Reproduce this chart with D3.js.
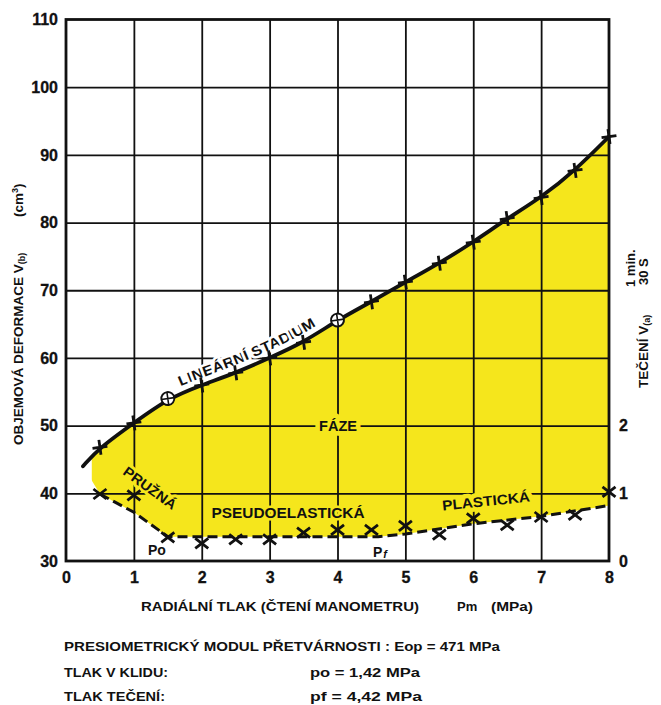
<!DOCTYPE html>
<html>
<head>
<meta charset="utf-8">
<script src="https://cdn.jsdelivr.net/npm/d3@7"></script>
<style>
  body { margin: 0; background: #fff; }
  svg { display: block; font-family: "Liberation Sans", Arial, sans-serif; font-weight: bold; }
</style>
</head>
<body>
<svg id="chart" width="661" height="705"></svg>
<script>
// radialni tlak Pm (MPa) - zatezovaci stupne
var pressure = [0.5, 1, 1.5, 2, 2.5, 3, 3.5, 4, 4.5, 5, 5.5, 6, 6.5, 7, 7.5, 8];
// objemova deformace V(b) (cm3)
var volume = [46.8, 50.4, 54.0, 56.0, 57.8, 60.0, 62.3, 65.6, 68.3, 71.2, 74.0, 77.1, 80.6, 83.7, 87.7, 92.7];
// teceni V(a) 30 s - 1 min (prava osa)
var creep = [0.99, 0.97, 0.35, 0.26, 0.32, 0.32, 0.42, 0.46, 0.46, 0.52, 0.39, 0.63, 0.53, 0.65, 0.68, 1.02];
// body oznacene krouzkem
var circled = [1.5, 4];
// zacatek vyrovnane krivky V(b)
var curveStart = [0.25, 44];
// vyrovnana carkovana krivka teceni
var creepFitP = [0.5, 1, 1.5, 4.6, 5, 6, 7, 8];
var creepFitV = [0.99, 0.72, 0.36, 0.36, 0.40, 0.55, 0.66, 0.82];
var fillFrom = 0.38;

var xTicks = [0, 1, 2, 3, 4, 5, 6, 7, 8];
var yTicks = [30, 40, 50, 60, 70, 80, 90, 100, 110];
var rTicks = [0, 1, 2];

var yellow = "#f5e61c";
var ink = "#111";

var svg = d3.select("#chart");
var x = d3.scaleLinear().domain([0, 8]).range([66, 609]);
var y = d3.scaleLinear().domain([30, 110]).range([561, 19.5]);
var yR = d3.scaleLinear().domain([0, 8]).range([561, 19.5]);
var plotH = y(30) - y(110);
var plotW = x(8) - x(0);

var upperPts = [curveStart].concat(pressure.map(function (p, i) { return [p, volume[i]]; }));
var lowerPts = creepFitP.map(function (p, i) { return [p, creepFitV[i]]; });

var upperLine = d3.line()
  .x(function (d) { return x(d[0]); })
  .y(function (d) { return y(d[1]); })
  .curve(d3.curveBasis);
var lowerLine = d3.line()
  .x(function (d) { return x(d[0]); })
  .y(function (d) { return yR(d[1]); });

// zluta oblast mezi krivkami
svg.append("clipPath").attr("id", "fillClip")
  .append("rect")
  .attr("x", x(fillFrom)).attr("y", y(110))
  .attr("width", x(8) - x(fillFrom)).attr("height", plotH);

svg.append("path")
  .attr("d", upperLine(upperPts) + lowerLine(lowerPts.slice().reverse()).replace("M", "L") + "Z")
  .attr("fill", yellow)
  .attr("clip-path", "url(#fillClip)");

// mrizka
var gx = svg.append("g")
  .attr("transform", "translate(0," + y(30) + ")")
  .call(d3.axisBottom(x).tickValues(xTicks.slice(1, -1)).tickSize(-plotH).tickFormat(""));
var gy = svg.append("g")
  .attr("transform", "translate(" + x(0) + ",0)")
  .call(d3.axisLeft(y).tickValues(yTicks.slice(1, -1)).tickSize(-plotW).tickFormat(""));
[gx, gy].forEach(function (g) {
  g.select(".domain").remove();
  g.selectAll("line").attr("stroke", ink).attr("stroke-width", 1.8);
});

// popisky os
var axL = svg.append("g").attr("transform", "translate(" + x(0) + ",0)")
  .call(d3.axisLeft(y).tickValues(yTicks).tickSize(0).tickPadding(8));
var axB = svg.append("g").attr("transform", "translate(0," + y(30) + ")")
  .call(d3.axisBottom(x).tickValues(xTicks).tickSize(0).tickPadding(11).tickFormat(d3.format("d")));
var axR = svg.append("g").attr("transform", "translate(" + x(8) + ",0)")
  .call(d3.axisRight(yR).tickValues(rTicks).tickSize(0).tickPadding(10).tickFormat(d3.format("d")));
[axL, axB, axR].forEach(function (g) {
  g.select(".domain").remove();
  g.selectAll("text").attr("font-size", 16).attr("font-family", "Liberation Sans, Arial, sans-serif")
    .attr("font-weight", "bold").attr("fill", ink)
    .attr("stroke", ink).attr("stroke-width", 0.3);
});

function halo(sel, color, w) {
  return sel.attr("stroke", color).attr("stroke-width", w || 6)
    .attr("stroke-linejoin", "round").attr("paint-order", "stroke");
}

// krivka V(b)
var vbPath = svg.append("path")
  .attr("id", "vbCurve")
  .attr("d", upperLine(upperPts))
  .attr("fill", "none").attr("stroke", "none");

// nalezeni mista pro popisek na krivce
var node = vbPath.node();
var total = node.getTotalLength();
var startLen = 0;
for (var L = 0; L < total; L += 1) {
  if (node.getPointAtLength(L).x >= x(1.72)) { startLen = L; break; }
}

var lin = svg.append("text").attr("font-size", 14).attr("dy", -7).attr("fill", ink);
halo(lin, "#fff", 5);
lin.append("textPath")
  .attr("href", "#vbCurve")
  .attr("startOffset", startLen)
  .attr("textLength", 150)
  .attr("lengthAdjust", "spacingAndGlyphs")
  .text("LINEÁRNÍ STADIUM");

halo(svg.append("text")
  .attr("x", 338).attr("y", y(50)).attr("dy", "0.36em")
  .attr("text-anchor", "middle").attr("font-size", 14).attr("fill", ink)
  .attr("textLength", 38).attr("lengthAdjust", "spacingAndGlyphs")
  .text("FÁZE"), yellow, 9);

halo(svg.append("text")
  .attr("transform", "translate(150,488) rotate(36)")
  .attr("dy", "0.36em").attr("text-anchor", "middle").attr("font-size", 14).attr("fill", ink)
  .attr("textLength", 62).attr("lengthAdjust", "spacingAndGlyphs")
  .text("PRUŽNÁ"), yellow, 6);

halo(svg.append("text")
  .attr("x", 288).attr("y", 513).attr("dy", "0.36em")
  .attr("text-anchor", "middle").attr("font-size", 14).attr("fill", ink)
  .attr("textLength", 153).attr("lengthAdjust", "spacingAndGlyphs")
  .text("PSEUDOELASTICKÁ"), yellow, 5);

halo(svg.append("text")
  .attr("transform", "translate(486,501) rotate(-6)")
  .attr("dy", "0.36em").attr("text-anchor", "middle").attr("font-size", 14).attr("fill", ink)
  .attr("textLength", 88).attr("lengthAdjust", "spacingAndGlyphs")
  .text("PLASTICKÁ"), yellow, 9);

svg.append("text")
  .attr("x", 148).attr("y", 555).attr("font-size", 14).attr("fill", ink)
  .text("Po");
var pf = svg.append("text")
  .attr("x", 373).attr("y", 557).attr("font-size", 14).attr("fill", ink);
pf.append("tspan").text("P");
pf.append("tspan").attr("font-size", 11).attr("font-style", "italic").attr("dx", 1).attr("dy", 1).text("f");

// vykreslene krivky
svg.append("path")
  .attr("d", upperLine(upperPts))
  .attr("fill", "none").attr("stroke", ink).attr("stroke-width", 3.8)
  .attr("stroke-linecap", "round");

svg.append("path")
  .attr("d", lowerLine(lowerPts))
  .attr("fill", "none").attr("stroke", ink).attr("stroke-width", 3)
  .attr("stroke-dasharray", "10,5");

// znacky V(b)
var upperMarks = svg.append("g").selectAll("g")
  .data(pressure.map(function (p, i) { return { p: p, v: volume[i] }; }))
  .join("g")
  .attr("transform", function (d) { return "translate(" + x(d.p) + "," + y(d.v) + ") rotate(-8)"; });
upperMarks.filter(function (d) { return circled.indexOf(d.p) < 0; })
  .append("path")
  .attr("d", "M-7.5,0H7.5M0,-7.5V7.5")
  .attr("stroke", ink).attr("stroke-width", 2.8);
var circ = upperMarks.filter(function (d) { return circled.indexOf(d.p) >= 0; });
circ.append("circle").attr("r", 6.5).attr("fill", "#fff").attr("stroke", ink).attr("stroke-width", 1.9);
circ.append("path").attr("d", "M-6.5,0H6.5M0,-6.5V6.5").attr("stroke", ink).attr("stroke-width", 1.6);

// znacky V(a)
svg.append("g").selectAll("path")
  .data(pressure.map(function (p, i) { return { p: p, c: creep[i] }; }))
  .join("path")
  .attr("transform", function (d) { return "translate(" + x(d.p) + "," + yR(d.c) + ")"; })
  .attr("d", "M-6.5,-5L6.5,5M-6.5,5L6.5,-5")
  .attr("stroke", ink).attr("stroke-width", 2.8);

// ramecek
svg.append("rect")
  .attr("x", x(0)).attr("y", y(110)).attr("width", plotW).attr("height", plotH)
  .attr("fill", "none").attr("stroke", ink).attr("stroke-width", 2.8);

// nazvy os
var yl = svg.append("text")
  .attr("transform", "translate(23,445) rotate(-90)")
  .attr("font-size", 13.5).attr("fill", ink);
yl.append("tspan").text("OBJEMOVÁ DEFORMACE V");
yl.append("tspan").attr("font-size", 9).attr("dy", 2).text("(b)");
var yu = svg.append("text")
  .attr("transform", "translate(23,217) rotate(-90)")
  .attr("font-size", 13.5).attr("fill", ink);
yu.append("tspan").text("(cm");
yu.append("tspan").attr("font-size", 9).attr("dy", -5).text("3");
yu.append("tspan").attr("dy", 5).text(")");

var rl = svg.append("text")
  .attr("transform", "translate(648,388) rotate(-90)")
  .attr("font-size", 13.5).attr("fill", ink);
rl.append("tspan").text("TEČENÍ V");
rl.append("tspan").attr("font-size", 9).attr("dy", 2).text("(a)");
svg.append("text")
  .attr("transform", "translate(635,287) rotate(-90)")
  .attr("font-size", 13).attr("fill", ink).text("1 min.");
svg.append("text")
  .attr("transform", "translate(648,285) rotate(-90)")
  .attr("font-size", 13).attr("fill", ink).text("30 S");

svg.append("text").attr("x", 141).attr("y", 611).attr("font-size", 13).attr("fill", ink)
  .attr("textLength", 278).attr("lengthAdjust", "spacingAndGlyphs")
  .text("RADIÁLNÍ TLAK (ČTENÍ MANOMETRU)");
svg.append("text").attr("x", 457).attr("y", 611).attr("font-size", 13).attr("fill", ink).text("Pm");
svg.append("text").attr("x", 491).attr("y", 611).attr("font-size", 13).attr("fill", ink)
  .attr("textLength", 42).attr("lengthAdjust", "spacingAndGlyphs").text("(MPa)");

// vysledky
var notes = [
  { t: "PRESIOMETRICKÝ MODUL PŘETVÁRNOSTI : Eop = 471 MPa", x: 64, y: 650.5, w: 436 },
  { t: "TLAK V KLIDU:", x: 64, y: 677, w: 104 },
  { t: "po = 1,42 MPa", x: 310, y: 677, w: 110 },
  { t: "TLAK TEČENÍ:", x: 64, y: 700.5, w: 101 },
  { t: "pf = 4,42 MPa", x: 310, y: 700.5, w: 112 }
];
svg.append("g").selectAll("text")
  .data(notes)
  .join("text")
  .attr("x", function (d) { return d.x; })
  .attr("y", function (d) { return d.y; })
  .attr("font-size", 12.5).attr("fill", ink)
  .attr("textLength", function (d) { return d.w; })
  .attr("lengthAdjust", "spacingAndGlyphs")
  .text(function (d) { return d.t; });
</script>
</body>
</html>
